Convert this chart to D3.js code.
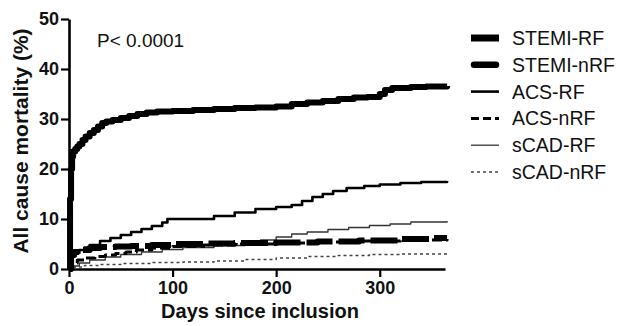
<!DOCTYPE html>
<html>
<head>
<meta charset="utf-8">
<script src="https://cdn.jsdelivr.net/npm/d3@7"></script>
<style>
  body { margin: 0; background: #fff; }
  svg text { font-family: "Liberation Sans", Arial, sans-serif; fill: #111; }
</style>
</head>
<body>
<div class="chart"></div>
<script>
// --- data (days since inclusion, mortality %)
const groups = ["STEMI-RF", "STEMI-nRF", "ACS-RF", "ACS-nRF", "sCAD-RF", "sCAD-nRF"];

const stemiRfDays = [0,1,2,3,4,6,8,10,13,16,20,24,28,32,36,42,50,58,66,75,85,100,120,140,160,180,200,215,230,245,260,275,288,300,305,312,330,345,365];
const stemiRfVals = [0,14,20,22.5,23.5,24,24.5,25,25.8,26.5,27.2,27.8,28.5,29.2,29.5,29.8,30.2,30.6,31,31.3,31.5,31.6,31.8,32,32.2,32.3,32.5,33,33.3,33.6,34,34.3,34.4,35,35.8,36.2,36.4,36.5,36.6];

const stemiNrfDays = [0,2,5,10,20,30,45,60,80,100,130,160,200,240,280,320,350,365];
const stemiNrfVals = [0,2.8,3.4,3.8,4.2,4.4,4.5,4.6,4.8,5,5.1,5.2,5.3,5.5,5.7,6,6.2,6.2];

const acsRfDays = [0,2,5,10,15,20,30,40,50,60,70,80,90,95,120,140,160,180,200,215,225,235,245,255,268,285,300,320,340,365];
const acsRfVals = [0,2.5,3.2,3.8,4.3,4.8,5.6,6.2,6.8,7.4,8,8.6,9.3,10,10,10.6,11.3,12,12.4,12.8,13.6,14.4,15,15.6,16.2,16.6,16.9,17.2,17.4,17.6];

const acsNrfDays = [0,3,8,15,25,35,45,55,65,80,100,130,160,200,240,280,320,365];
const acsNrfVals = [0,1.2,1.8,2.2,2.5,2.8,3.1,3.4,3.8,4.2,4.5,4.8,5,5.2,5.4,5.6,5.8,6];

const scadRfDays = [0,3,10,20,35,50,70,90,110,140,170,185,200,215,230,250,270,290,310,330,365];
const scadRfVals = [0,0.6,1.2,1.8,2.4,2.9,3.4,3.9,4.3,4.7,5.2,5.8,6.4,7,7.4,7.9,8.3,8.7,9,9.4,9.6];

const scadNrfDays = [0,5,15,30,50,80,110,140,170,200,230,260,290,320,365];
const scadNrfVals = [0,0.4,0.7,0.9,1.1,1.3,1.4,1.6,1.9,2.2,2.5,2.7,2.9,3,3.1];

const xTicks = [0, 100, 200, 300];
const yTicks = [0, 10, 20, 30, 40, 50];

// --- line styles per group
const styles = {
  "STEMI-RF":  { width: 6,   dash: null,    color: "#000" },
  "STEMI-nRF": { width: 6,   dash: "27,6",  color: "#000" },
  "ACS-RF":    { width: 2.6, dash: null,    color: "#000" },
  "ACS-nRF":   { width: 3,   dash: "10,4",  color: "#000" },
  "sCAD-RF":   { width: 1.3, dash: null,    color: "#333" },
  "sCAD-nRF":  { width: 1.5, dash: "3,3",   color: "#444" }
};

const series = [
  { name: "STEMI-RF",  days: stemiRfDays,  vals: stemiRfVals },
  { name: "STEMI-nRF", days: stemiNrfDays, vals: stemiNrfVals },
  { name: "ACS-RF",    days: acsRfDays,    vals: acsRfVals },
  { name: "ACS-nRF",   days: acsNrfDays,   vals: acsNrfVals },
  { name: "sCAD-RF",   days: scadRfDays,   vals: scadRfVals },
  { name: "sCAD-nRF",  days: scadNrfDays,  vals: scadNrfVals }
];

const width = 618, height = 326;

const svg = d3.select(".chart").append("svg")
  .attr("width", width)
  .attr("height", height);

const x = d3.scaleLinear().domain([0, 363]).range([69, 445]);
const y = d3.scaleLinear().domain([0, 50]).range([269, 19]);

// --- curves (draw thin ones first so thick ones sit on top)
const line = d3.line()
  .x(d => x(d[0]))
  .y(d => y(d[1]))
  .curve(d3.curveStepAfter);

const plot = svg.append("g").attr("class", "curves");

series.slice().reverse().forEach(s => {
  const st = styles[s.name];
  const pts = s.days.map((d, i) => [d, s.vals[i]]);
  plot.append("path")
    .datum(pts)
    .attr("d", line)
    .attr("fill", "none")
    .attr("stroke", st.color)
    .attr("stroke-width", st.width)
    .attr("stroke-dasharray", st.dash)
    .attr("stroke-linecap", "butt")
    .attr("stroke-linejoin", "round");
});

// --- axes
const xAxis = svg.append("g")
  .attr("transform", "translate(0,269)")
  .call(d3.axisBottom(x).tickValues(xTicks).tickSize(8).tickPadding(4).tickSizeOuter(0));

const yAxis = svg.append("g")
  .attr("transform", "translate(69,0)")
  .call(d3.axisLeft(y).tickValues(yTicks).tickSize(8).tickPadding(2).tickSizeOuter(0));

[xAxis, yAxis].forEach(a => {
  a.select(".domain").attr("stroke", "#000").attr("stroke-width", 2.6);
  a.selectAll(".tick line").attr("stroke", "#000").attr("stroke-width", 2.2);
  a.selectAll(".tick text")
    .attr("fill", "#111")
    .style("font-family", "'Liberation Sans', Arial, sans-serif")
    .style("font-size", "18px")
    .style("font-weight", "bold");
});

// axis titles
svg.append("text")
  .attr("x", 260)
  .attr("y", 318)
  .attr("text-anchor", "middle")
  .style("font-size", "20px")
  .style("font-weight", "bold")
  .text("Days since inclusion");

svg.append("text")
  .attr("transform", "translate(28,141) rotate(-90)")
  .attr("text-anchor", "middle")
  .style("font-size", "21px")
  .style("font-weight", "bold")
  .text("All cause mortality (%)");

// p value
svg.append("text")
  .attr("x", 97)
  .attr("y", 47)
  .style("font-size", "19px")
  .text("P< 0.0001");

// --- legend
const legendY = d3.scalePoint().domain(groups).range([38, 172]);

const legend = svg.append("g").attr("class", "legend");

groups.forEach(g => {
  const st = styles[g];
  const ly = legendY(g);
  let x1 = 471, x2 = 499, dash = st.dash, w = st.width;
  if (g === "STEMI-RF") w = 7;
  if (g === "STEMI-nRF") { x1 = 474; x2 = 496; dash = null; w = 6.5; }
  if (g === "ACS-nRF") dash = "8,4";
  legend.append("line")
    .attr("x1", x1).attr("x2", x2)
    .attr("y1", ly).attr("y2", ly)
    .attr("stroke", st.color)
    .attr("stroke-width", w)
    .attr("stroke-dasharray", dash)
    .attr("stroke-linecap", g === "STEMI-nRF" ? "round" : "butt");
  legend.append("text")
    .attr("x", 512)
    .attr("y", ly)
    .attr("dy", "0.36em")
    .style("font-size", "19.5px")
    .text(g);
});
</script>
</body>
</html>
